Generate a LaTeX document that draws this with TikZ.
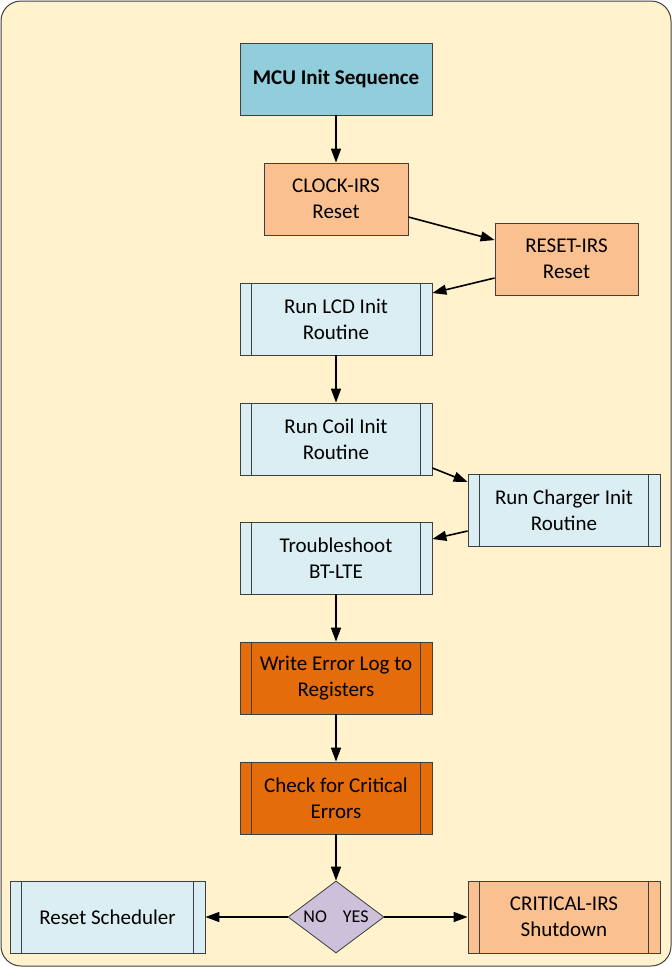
\documentclass[tikz,border=0pt]{standalone}
\usepackage{fontspec}
\setmainfont{Carlito}
\usetikzlibrary{shapes.geometric,arrows.meta}

\definecolor{creamBg}{HTML}{FFF2CC}
\definecolor{frameGray}{HTML}{404040}
\definecolor{edgeGray}{HTML}{3F3F3F}
\definecolor{tealHead}{HTML}{92CDDC}
\definecolor{peach}{HTML}{FAC090}
\definecolor{iceBlue}{HTML}{DAEEF3}
\definecolor{burntOrange}{HTML}{E46C0A}
\definecolor{lavender}{HTML}{CCC0DA}

\newcommand{\boxfont}{\fontsize{21}{26}\selectfont}

\begin{document}
\begin{tikzpicture}[x=1pt,y=-1pt,
  box/.style={draw=edgeGray,line width=0.8pt,minimum height=72pt,inner sep=0pt,align=center,font=\boxfont},
  headbox/.style={box,fill=tealHead,minimum width=192pt,font=\boxfont\bfseries},
  resetbox/.style={box,fill=peach,minimum width=144pt},
  routine/.style={box,fill=iceBlue,minimum width=192pt},
  alertbox/.style={box,fill=burntOrange,minimum width=192pt},
  decision/.style={diamond,draw=edgeGray,line width=0.8pt,fill=lavender,aspect=1.333,minimum width=96pt,minimum height=72pt,inner sep=0pt},
  flow/.style={-{Triangle[length=14pt,width=10pt]},line width=1.6pt}]
  \useasboundingbox (0,0) rectangle (672,967);
  % fond
  \draw[frameGray,fill=creamBg,line width=1pt,rounded corners=20pt] (1,1) rectangle (671,966);
  % tete
  \node[headbox] (mcu) at (336,79) {MCU Init Sequence};
  % resets
  \node[resetbox] (clock) at (336,199) {CLOCK-IRS\\Reset};
  \node[resetbox,minimum width=143pt] (reset) at (566.5,259) {RESET-IRS\\Reset};
  % routines
  \node[routine] (lcd) at (336,319) {Run LCD Init\\Routine};
  \node[routine] (coil) at (336,439) {Run Coil Init\\Routine};
  \node[routine] (charger) at (564,510) {Run Charger Init\\Routine};
  \node[routine] (trouble) at (336,558) {Troubleshoot\\BT-LTE};
  % erreurs
  \node[alertbox] (errlog) at (336,678) {Write Error Log to\\Registers};
  \node[alertbox] (errcheck) at (336,798) {Check for Critical\\Errors};
  % choix
  \node[decision,label={[font=\fontsize{18}{21}\selectfont]center:NO\hspace{16pt}YES}] (choice) at (336,917) {};
  \node[routine,minimum width=195pt] (sched) at (107.5,917) {Reset Scheduler};
  \node[routine,fill=peach] (crit) at (564,917) {CRITICAL-IRS\\Shutdown};
  % barres laterales
  \foreach \n in {lcd,coil,charger,trouble,errlog,errcheck,sched,crit} {
    \draw[edgeGray,line width=0.8pt] ([xshift=12pt]\n.north west) -- ([xshift=12pt]\n.south west);
    \draw[edgeGray,line width=0.8pt] ([xshift=-12pt]\n.north east) -- ([xshift=-12pt]\n.south east);
  }
  % liaisons
  \draw[flow] (mcu) -- (clock);
  \draw[flow] ([yshift=-18pt]clock.east) -- ([yshift=19pt]reset.west);
  \draw[flow] ([yshift=-19pt]reset.west) -- ([yshift=26pt]lcd.east);
  \draw[flow] (lcd) -- (coil);
  \draw[flow] ([yshift=-29pt]coil.east) -- ([yshift=28pt]charger.west);
  \draw[flow] ([yshift=-21pt]charger.west) -- ([yshift=19pt]trouble.east);
  \draw[flow] (trouble) -- (errlog);
  \draw[flow] (errlog) -- (errcheck);
  \draw[flow] (errcheck) -- (choice);
  \draw[flow] (choice) -- (sched);
  \draw[flow] (choice) -- (crit);
\end{tikzpicture}
\end{document}
